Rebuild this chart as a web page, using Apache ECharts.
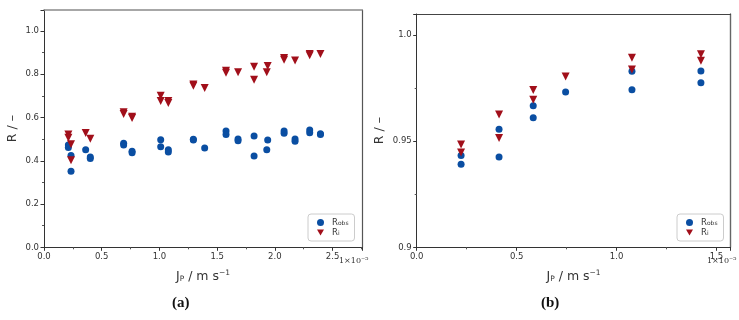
<!DOCTYPE html>
<html><head><meta charset="utf-8">
<script src="https://cdn.jsdelivr.net/npm/echarts@6/dist/echarts.min.js"></script>
<style>html,body{margin:0;padding:0;background:#fff}#c{width:739px;height:320px}</style>
</head><body><div id="c"></div>
<script>
// Panel (a): flux Jp (x 1e-5 m/s), observed and intrinsic rejection
const aRobsX = [0.211,0.211,0.234,0.234,0.361,0.401,0.401,0.690,0.690,0.763,0.763,1.011,1.011,1.077,1.077,1.294,1.294,1.392,1.577,1.577,1.681,1.681,1.820,1.820,1.930,1.938,2.080,2.080,2.175,2.175,2.302,2.302,2.395,2.395];
const aRobsY = [0.473,0.461,0.424,0.351,0.451,0.417,0.411,0.481,0.473,0.444,0.437,0.497,0.465,0.451,0.441,0.499,0.496,0.459,0.538,0.522,0.501,0.493,0.515,0.422,0.451,0.496,0.538,0.527,0.501,0.490,0.542,0.530,0.525,0.521];
const aRiX = [0.211,0.211,0.234,0.234,0.361,0.401,0.690,0.690,0.763,0.763,1.011,1.011,1.077,1.077,1.294,1.294,1.392,1.577,1.577,1.681,1.820,1.820,1.930,1.938,2.080,2.080,2.175,2.302,2.302,2.395];
const aRiY = [0.522,0.507,0.476,0.402,0.528,0.502,0.624,0.616,0.604,0.598,0.701,0.676,0.676,0.667,0.753,0.747,0.736,0.816,0.807,0.809,0.835,0.775,0.809,0.838,0.875,0.867,0.863,0.894,0.888,0.894];
// Panel (b)
const bRobsX = [0.222,0.222,0.412,0.412,0.583,0.583,0.745,1.077,1.077,1.422,1.422];
const bRobsY = [0.9433,0.9391,0.9556,0.9425,0.9667,0.9610,0.9732,0.9829,0.9742,0.9830,0.9775];
const bRiX = [0.222,0.222,0.412,0.412,0.583,0.583,0.745,1.077,1.077,1.422,1.422];
const bRiY = [0.9484,0.9446,0.9625,0.9515,0.9741,0.9695,0.9804,0.9893,0.9838,0.9909,0.9879];
const aXTicks = [0,0.5,1,1.5,2,2.5];
const aYTicks = [0,0.2,0.4,0.6,0.8,1.0];
const bXTicks = [0,0.5,1,1.5];
const bYTicks = ['0.9','0.95','1.0'];

const BLUE = '#0a4ea2', RED = '#a10f1a';
const TRI_DOWN = 'path://M0,0L10,0L5,8.66Z';
const pair = (xs, ys) => xs.map((x, i) => [x, ys[i]]);
const FONT = 'DejaVu Sans';

function onTick(v, ticks, step){ return ticks.some(t => Math.abs(t - v) < step*0.01); }

const labelStyle = {fontFamily: FONT, fontSize: 8.5, color: '#333', margin: 5};
const axisLine = {show: true, onZero: false, lineStyle: {color: '#333', width: 1}};
const tick = {show: true, length: 3.5, lineStyle: {color: '#333'}};
const minor = {show: true, splitNumber: 2, length: 2, lineStyle: {color: '#555'}};
const nameRich = {
  m: {fontFamily: FONT, fontSize: 12.5, color: '#333'},
  s: {fontFamily: FONT, fontSize: 7.5, color: '#333', verticalAlign: 'bottom', padding: [6,0,0,0]},
  u: {fontFamily: FONT, fontSize: 7.5, color: '#333', verticalAlign: 'top', padding: [0,0,6,0]}
};
const xName = '{m|J}{s|P}{m| / m s}{u|−1}';

// spine-only axes (top / right frame)
function spine(kind, gridIndex, pos, min, max, color, width) {
  return {gridIndex, type: 'value', position: pos, min, max, silent: true,
    axisLine: {show: true, onZero: false, lineStyle: {color, width}},
    axisTick: {show: false}, axisLabel: {show: false}, splitLine: {show: false}};
}

const legendBase = {
  orient: 'vertical', itemWidth: 7, itemHeight: 7, itemGap: 1,
  padding: [4, 6, 4, 9], borderColor: '#ccc', borderWidth: 1, borderRadius: 3,
  backgroundColor: '#fff',
  formatter: n => n.indexOf('obs') >= 0 ? '{r|R}{s|obs}' : '{r|R}{s|i}',
  textStyle: {fontFamily: FONT, color: '#333', lineHeight: 8, rich: {
    r: {fontFamily: FONT, fontSize: 8.5, color: '#333', padding: [0,0,0,3]},
    s: {fontFamily: FONT, fontSize: 6, color: '#333', verticalAlign: 'bottom', padding: [3,0,0,0]}
  }}
};

const option = {
  animation: false,
  backgroundColor: '#fff',
  grid: [
    {left: 44, top: 10, width: 318, height: 237.3},
    {left: 416.7, top: 14, width: 313.8, height: 233.3}
  ],
  xAxis: [
    {gridIndex: 0, type: 'value', min: 0, max: 2.755, interval: 0.5,
     axisLine, axisTick: tick, minorTick: minor, splitLine: {show: false},
     axisLabel: Object.assign({}, labelStyle, {formatter: v => onTick(v, aXTicks, 0.5) ? v.toFixed(1) : ''}),
     name: xName, nameLocation: 'middle', nameGap: 22, nameTextStyle: {rich: nameRich}},
    {gridIndex: 1, type: 'value', min: 0, max: 1.57, interval: 0.5,
     axisLine, axisTick: tick, minorTick: minor, splitLine: {show: false},
     axisLabel: Object.assign({}, labelStyle, {formatter: v => onTick(v, bXTicks, 0.5) ? v.toFixed(1) : ''}),
     name: xName, nameLocation: 'middle', nameGap: 22, nameTextStyle: {rich: nameRich}},
    spine('x', 0, 'top', 0, 2.755, '#8a8a8a', 1.6),
    spine('x', 1, 'top', 0, 1.57, '#444', 1)
  ],
  yAxis: [
    {gridIndex: 0, type: 'value', min: 0, max: 1.097, interval: 0.2,
     axisLine, axisTick: tick, minorTick: minor, splitLine: {show: false},
     axisLabel: Object.assign({}, labelStyle, {formatter: v => onTick(v, aYTicks, 0.2) ? v.toFixed(1) : ''}),
     name: 'R / –', nameLocation: 'middle', nameGap: 25, nameRotate: 90,
     nameTextStyle: {fontFamily: FONT, fontSize: 12.5, color: '#333'}},
    {gridIndex: 1, type: 'value', min: 0.9, max: 1.0099, interval: 0.05,
     axisLine, axisTick: tick, minorTick: minor, splitLine: {show: false},
     axisLabel: Object.assign({}, labelStyle, {formatter: v => {
       const i = bYTicks.findIndex(t => Math.abs(parseFloat(t) - v) < 1e-4);
       return i >= 0 ? bYTicks[i] : '';
     }}),
     name: 'R / –', nameLocation: 'middle', nameGap: 30, nameRotate: 90,
     nameTextStyle: {fontFamily: FONT, fontSize: 12.5, color: '#333'}},
    spine('y', 0, 'right', 0, 1.097, '#555', 1.2),
    spine('y', 1, 'right', 0.9, 1.0099, '#666', 1.4)
  ],
  legend: [
    Object.assign({}, legendBase, {left: 308, top: 214,
      data: [{name: 'a-Robs', icon: 'circle'}, {name: 'a-Ri', icon: TRI_DOWN}]}),
    Object.assign({}, legendBase, {left: 677, top: 214,
      data: [{name: 'b-Robs', icon: 'circle'}, {name: 'b-Ri', icon: TRI_DOWN}]})
  ],
  series: [
    {name: 'a-Robs', type: 'scatter', xAxisIndex: 0, yAxisIndex: 0, data: pair(aRobsX, aRobsY),
     symbol: 'circle', symbolSize: 7, itemStyle: {color: BLUE, opacity: 1}},
    {name: 'a-Ri', type: 'scatter', xAxisIndex: 0, yAxisIndex: 0, data: pair(aRiX, aRiY),
     symbol: 'triangle', symbolRotate: 180, symbolSize: 8, itemStyle: {color: RED, opacity: 1}},
    {name: 'b-Robs', type: 'scatter', xAxisIndex: 1, yAxisIndex: 1, data: pair(bRobsX, bRobsY),
     symbol: 'circle', symbolSize: 7, itemStyle: {color: BLUE, opacity: 1}},
    {name: 'b-Ri', type: 'scatter', xAxisIndex: 1, yAxisIndex: 1, data: pair(bRiX, bRiY),
     symbol: 'triangle', symbolRotate: 180, symbolSize: 8, itemStyle: {color: RED, opacity: 1}}
  ],
  graphic: [
    {type: 'text', left: 339, top: 257, style: {text: '1×10⁻⁵', font: '8px "DejaVu Serif"', fill: '#333'}},
    {type: 'text', left: 707, top: 257, style: {text: '1×10⁻⁵', font: '8px "DejaVu Serif"', fill: '#333'}},
    {type: 'text', left: 172, top: 296, style: {text: '(a)', font: 'bold 15px "Liberation Serif"', fill: '#111'}},
    {type: 'text', left: 541, top: 296, style: {text: '(b)', font: 'bold 15px "Liberation Serif"', fill: '#111'}}
  ]
};
const chart = echarts.init(document.getElementById('c'), null, {renderer: 'canvas'});
chart.setOption(option);
</script></body></html>
